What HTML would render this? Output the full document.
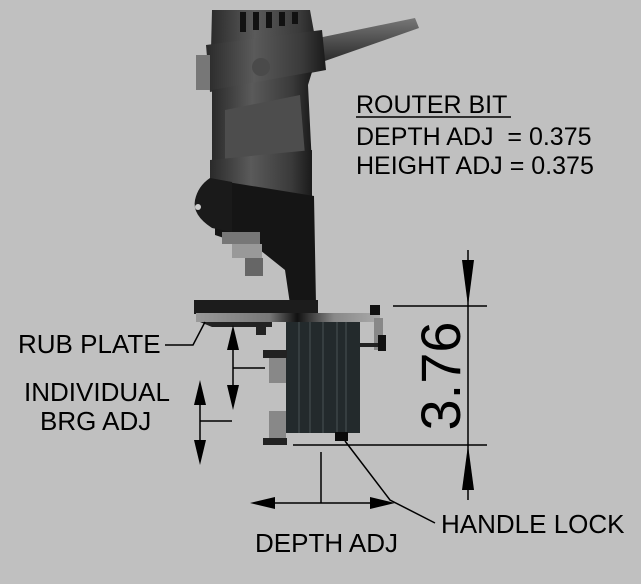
<!DOCTYPE html>
<html><head><style>
html,body{margin:0;padding:0;background:#c0c0c0;}
svg{display:block;}
text{font-family:"Liberation Sans",sans-serif;fill:#000;}
</style></head><body>
<svg width="641" height="584" viewBox="0 0 641 584" xmlns="http://www.w3.org/2000/svg">
<defs>
<linearGradient id="bd" x1="0" x2="1"><stop offset="0" stop-color="#2a2a2a"/><stop offset="0.4" stop-color="#5a5a5a"/><stop offset="0.8" stop-color="#3a3a3a"/><stop offset="1" stop-color="#1a1a1a"/></linearGradient>
<linearGradient id="cord" x1="0" y1="0" x2="0" y2="1"><stop offset="0" stop-color="#777"/><stop offset="1" stop-color="#2a2a2a"/></linearGradient>
<linearGradient id="strip" x1="0" x2="1"><stop offset="0" stop-color="#999"/><stop offset="0.4" stop-color="#777"/><stop offset="0.55" stop-color="#111"/><stop offset="0.75" stop-color="#888"/><stop offset="1" stop-color="#aaa"/></linearGradient>
</defs>
<rect width="641" height="584" fill="#c0c0c0"/>
<path d="M318 38 L415 18 L419 28 L322 62 Z" fill="url(#cord)"/>
<path d="M212 10 L310 10 L314 32 L322 70 L210 90 Z" fill="url(#bd)"/>
<g fill="#111"><rect x="240" y="12" width="6" height="20"/><rect x="253" y="12" width="6" height="18"/><rect x="266" y="12" width="6" height="16"/><rect x="279" y="12" width="6" height="14"/><rect x="292" y="12" width="6" height="12"/></g>
<path d="M206 45 L322 30 L326 70 L210 92 Z" fill="url(#bd)"/>
<rect x="196" y="55" width="14" height="35" fill="#777"/>
<circle cx="261" cy="67" r="9" fill="#4a4a4a"/>
<path d="M212 90 L312 72 L308 85 L312 165 L212 172 Z" fill="url(#bd)"/>
<path d="M225 110 L300 95 L305 155 L225 165 Z" fill="#4d4d4d"/>
<path d="M210 160 L312 150 L312 200 L210 200 Z" fill="url(#bd)"/>
<path d="M215 180 L314 196 L316 304 L290 304 L285 270 L260 250 L215 235 Z" fill="#151515"/>
<path d="M210 178 L232 182 L232 232 L212 228 Q192 215 195 200 Q198 186 210 178Z" fill="#1a1a1a"/>
<circle cx="198" cy="207" r="3" fill="#ccc"/>
<rect x="222" y="232" width="38" height="12" fill="#777"/>
<rect x="232" y="244" width="30" height="14" fill="#999"/>
<rect x="245" y="258" width="18" height="18" fill="#666"/>
<rect x="194" y="300" width="124" height="14" fill="#1c1c1c"/>
<rect x="196" y="313" width="184" height="9" fill="url(#strip)"/>
<path d="M200 322 L272 322 L272 327 L212 327 Z" fill="#222"/>
<rect x="256" y="327" width="10" height="8" fill="#222"/>
<rect x="370" y="305" width="10" height="10" fill="#111"/>
<rect x="374" y="318" width="9" height="32" fill="#888"/>
<rect x="342" y="343" width="36" height="4" fill="#222"/>
<rect x="343" y="334" width="4" height="18" fill="#111"/>
<rect x="378" y="335" width="8" height="16" fill="#111"/>
<rect x="286" y="322" width="74" height="111" fill="#232a2c"/>
<g stroke="#4a5253" stroke-width="1"><line x1="299" y1="322" x2="299" y2="433"/><line x1="310" y1="322" x2="310" y2="433"/><line x1="323" y1="322" x2="323" y2="433"/><line x1="337" y1="322" x2="337" y2="433"/><line x1="346" y1="322" x2="346" y2="433"/></g>
<rect x="335" y="432" width="13" height="9" fill="#0a0a0a"/>
<rect x="263" y="350" width="24" height="8" fill="#222"/>
<rect x="269" y="358" width="17" height="25" fill="#888"/>
<rect x="269" y="411" width="17" height="27" fill="#888"/>
<rect x="263" y="438" width="24" height="7" fill="#222"/>
<g stroke="#000" stroke-width="1.5" fill="none">
<line x1="393" y1="306" x2="487" y2="306"/>
<line x1="293" y1="445" x2="487" y2="445"/>
<line x1="468" y1="250" x2="468" y2="500"/>
<line x1="233" y1="330" x2="233" y2="405"/>
<line x1="233" y1="368" x2="265" y2="368"/>
<line x1="200" y1="384" x2="200" y2="460"/>
<line x1="200" y1="421" x2="232" y2="421"/>
<polyline points="165,345 193,345 205,322"/>
<line x1="255" y1="503" x2="390" y2="503"/>
<line x1="321" y1="452" x2="321" y2="503"/>
<polyline points="345,441 390,500 435,523"/>
</g>
<g fill="#000">
<polygon points="462,260 474,260 468,306"/>
<polygon points="462,490 474,490 468,445"/>
<polygon points="227,350 239,350 233,325"/>
<polygon points="227,385 239,385 233,410"/>
<polygon points="194,405 206,405 200,380"/>
<polygon points="194,440 206,440 200,465"/>
<polygon points="275,497 275,509 250,503"/>
<polygon points="370,497 370,509 395,503"/>
</g>
<text x="356" y="113" font-size="25">ROUTER BIT</text>
<line x1="356" y1="117" x2="511" y2="117" stroke="#000" stroke-width="1.5"/>
<text x="356" y="145" font-size="25" xml:space="preserve">DEPTH ADJ  = 0.375</text>
<text x="356" y="174" font-size="25">HEIGHT ADJ = 0.375</text>
<text x="18" y="353" font-size="26">RUB PLATE</text>
<text x="24" y="401" font-size="26">INDIVIDUAL</text>
<text x="40" y="430" font-size="26">BRG ADJ</text>
<text x="255" y="552" font-size="26">DEPTH ADJ</text>
<text x="441" y="533" font-size="26">HANDLE LOCK</text>
<text transform="translate(460,376) rotate(-90)" text-anchor="middle" font-size="56">3.76</text>
</svg>
</body></html>
